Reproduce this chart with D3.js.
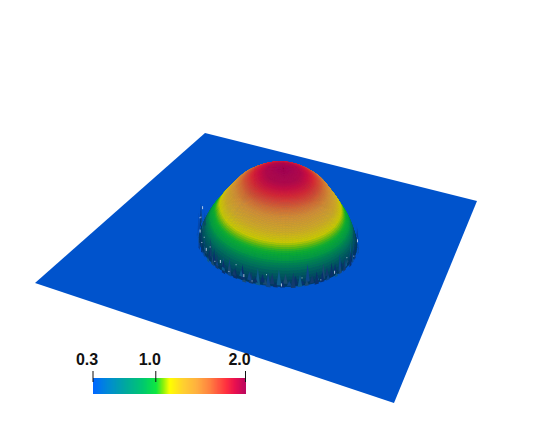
<!DOCTYPE html>
<html>
<head>
    <title>Surface</title>
    <script src="https://d3js.org/d3.v7.min.js"></script>
    <style>
        html, body { margin: 0; padding: 0; background: #fff; overflow: hidden; }
        text { font-family: "Liberation Sans", Arial, sans-serif; font-size: 16px; font-weight: bold; fill: #111; }
    </style>
</head>
<body>
    <div id="chart"></div>
    <script>
        // colour map
        const colorValues = [0.3, 0.45, 0.65, 0.85, 1.0, 1.07, 1.15, 1.3, 1.45, 1.6, 1.78, 1.88, 2.0];
        const colorStops = ["#0068ff", "#0088d8", "#00a8a0", "#00c870", "#10e840", "#80f010", "#ffff00",
            "#ffd030", "#ffb040", "#ff8040", "#ff3040", "#e81050", "#b80860"];
        const tickValues = [0.3, 1.0, 2.0];
        const tickLabels = ["0.3", "1.0", "2.0"];

        // dome profile: fraction of radius, height (fraction of peak), colour value, brightness
        const profileR = [0, 0.1, 0.22, 0.36, 0.48, 0.59, 0.75, 0.82, 0.88, 0.93, 0.97, 1];
        const profileZ = [1, 0.99, 0.95, 0.89, 0.81, 0.72, 0.5, 0.39, 0.3, 0.2, 0.09, 0];
        const profileV = [2.0, 1.99, 1.95, 1.82, 1.66, 1.48, 1.2, 1.03, 0.92, 0.72, 0.55, 0.4];
        const profileK = [0.88, 0.88, 0.86, 0.84, 0.82, 0.82, 0.8, 0.76, 0.72, 0.62, 0.5, 0.4];

        // spike heights along the foot of the dome, from screen right round the front to screen left
        const spikes = [9, 15, 6, 18, 10, 4, 14, 7, 17, 5, 11, 16, 6, 9, 13, 4, 15, 8, 5, 12, 17, 7, 10, 4, 14, 9, 6, 16, 11, 5,
            13, 8, 18, 6, 4, 12, 9, 15, 5, 10, 7, 16, 4, 11, 14, 6, 8, 17, 5, 12, 9, 4, 15, 7, 11, 6, 18, 9, 5, 13,
            8, 16, 4, 10, 14, 6, 12, 19, 7, 9, 15, 5, 11, 17, 8, 13, 20, 9, 16, 11, 22, 14, 18, 10, 24, 13, 19];
        const spikeFoot = [1.02, 0.97, 1.03, 0.99, 0.95, 1.02, 0.98];
        // white specks: position along the same arc, height above the foot
        const speckAt = [0.06, 0.14, 0.2, 0.27, 0.33, 0.4, 0.47, 0.52, 0.57, 0.6, 0.63, 0.66, 0.7, 0.73, 0.76, 0.79, 0.81, 0.84, 0.88, 0.92, 0.95, 0.98];
        const speckUp = [7, 3, 10, 5, 2, 8, 3, 11, 2, 6, 13, 3, 9, 4, 14, 8, 16, 6, 12, 18, 14, 20];

        const width = 538, height = 434;
        const svg = d3.select("#chart").append("svg").attr("width", width).attr("height", height);

        const valueColor = d3.scaleLinear().domain(colorValues).range(colorStops).interpolate(d3.interpolateRgb).clamp(true);

        // plane corners on screen, for u,v in [-1,1]
        const quad = [[205, 133], [477, 201], [394, 403], [35, 283]];
        function homography(q) {
            const [[x0, y0], [x1, y1], [x2, y2], [x3, y3]] = q;
            const dx1 = x1 - x2, dx2 = x3 - x2, sx = x0 - x1 + x2 - x3;
            const dy1 = y1 - y2, dy2 = y3 - y2, sy = y0 - y1 + y2 - y3;
            const den = dx1 * dy2 - dx2 * dy1;
            const g = (sx * dy2 - dx2 * sy) / den, h = (dx1 * sy - sx * dy1) / den;
            const a = x1 - x0 + g * x1, b = x3 - x0 + h * x3, d = y1 - y0 + g * y1, e = y3 - y0 + h * y3;
            return (u, v) => {
                const s = (u + 1) / 2, t = (v + 1) / 2, w = g * s + h * t + 1;
                return [(a * s + b * t + x0) / w, (d * s + e * t + y0) / w];
            };
        }
        const planeAt = homography(quad);

        const domeRadius = 0.47, domeHeight = 68, lean = 5;
        const zAt = d3.scaleLinear().domain(profileR).range(profileZ).clamp(true);
        const vAt = d3.scaleLinear().domain(profileR).range(profileV).clamp(true);
        const kAt = d3.scaleLinear().domain(profileR).range(profileK).clamp(true);

        function project(r, th) {
            const [x, y] = planeAt(domeRadius * r * Math.cos(th), domeRadius * r * Math.sin(th));
            const z = zAt(r);
            return [x + lean * z, y - domeHeight * z];
        }
        function shaded(value, k) {
            const c = d3.rgb(valueColor(value));
            return d3.rgb(c.r * k, c.g * k, c.b * k).formatHex();
        }

        // the flat sheet
        svg.append("polygon")
            .attr("points", quad.join(" "))
            .attr("fill", shaded(0.3, 0.8));

        // dome mesh, painted back to front
        const nR = 80, nT = 120;
        const rScale = d3.scaleLinear().domain([0, nR]).range([0, 1]);
        const tScale = d3.scaleLinear().domain([0, nT]).range([0, 2 * Math.PI]);
        const cells = [];
        d3.range(nR).forEach(i => d3.range(nT).forEach(j => {
            const r0 = rScale(i), r1 = rScale(i + 1), t0 = tScale(j), t1 = tScale(j + 1);
            const rm = (r0 + r1) / 2, tm = (t0 + t1) / 2;
            cells.push({
                pts: [project(r0, t0), project(r1, t0), project(r1, t1), project(r0, t1)],
                depth: planeAt(domeRadius * rm * Math.cos(tm), domeRadius * rm * Math.sin(tm))[1],
                fill: shaded(vAt(rm), kAt(rm))
            });
        }));
        cells.sort((a, b) => a.depth - b.depth);

        svg.append("g").selectAll("polygon")
            .data(cells)
            .join("polygon")
            .attr("points", d => d.pts.join(" "))
            .attr("fill", d => d.fill)
            .attr("stroke", d => d.fill)
            .attr("stroke-width", 0.6);

        // spiky foot of the dome
        const arc = d3.scaleLinear().domain([0, 1]).range([-0.5, 3.0]);
        const footAt = (f, rr) => planeAt(domeRadius * rr * Math.cos(arc(f)), domeRadius * rr * Math.sin(arc(f)));
        const spikeX = d3.scaleLinear().domain([0, spikes.length - 1]).range([0, 1]);
        const spikeColors = ["#0a3068", "#123a6c", "#0c4688", "#1a4a70", "#08306e", "#0d5a8a"];

        svg.append("g").selectAll("polygon")
            .data(spikes)
            .join("polygon")
            .attr("points", (d, i) => {
                const f = spikeX(i), rr = spikeFoot[i % spikeFoot.length];
                const a = footAt(f - 0.008, rr), b = footAt(f + 0.008, rr), m = footAt(f, rr);
                return [a, [m[0], m[1] - d], b].join(" ");
            })
            .attr("fill", (d, i) => spikeColors[i % spikeColors.length]);

        svg.append("g").selectAll("rect")
            .data(speckAt)
            .join("rect")
            .attr("x", d => footAt(d, 1.0)[0])
            .attr("y", (d, i) => footAt(d, 1.0)[1] - speckUp[i])
            .attr("width", 1)
            .attr("height", (d, i) => i % 3 === 0 ? 3 : 1)
            .attr("fill", "#c8d8ec")
            .attr("fill-opacity", 0.85);

        // colour bar
        const barX = d3.scaleLinear().domain([0.3, 2.0]).range([93, 245.5]);
        const barSteps = d3.range(0, 153).map(d => barX.domain()[0] + d * 1.7 / 153);

        const legend = svg.append("g");
        legend.selectAll("rect")
            .data(barSteps)
            .join("rect")
            .attr("x", d => barX(d))
            .attr("y", 378)
            .attr("width", 1.5)
            .attr("height", 16)
            .attr("fill", d => valueColor(d));

        legend.selectAll("line")
            .data(tickValues)
            .join("line")
            .attr("x1", d => barX(d))
            .attr("x2", d => barX(d))
            .attr("y1", 371)
            .attr("y2", 382)
            .attr("stroke", "#111")
            .attr("stroke-width", 1);

        legend.selectAll("text")
            .data(tickValues)
            .join("text")
            .attr("x", d => barX(d) - 6)
            .attr("y", 364.5)
            .attr("text-anchor", "middle")
            .text((d, i) => tickLabels[i]);
    </script>
</body>
</html>
